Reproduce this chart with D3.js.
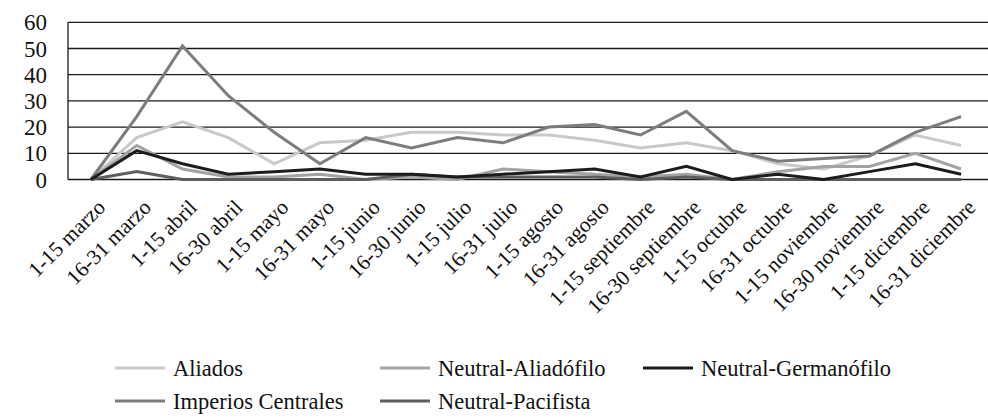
<!DOCTYPE html>
<html>
<head>
<meta charset="utf-8">
<script src="https://cdn.jsdelivr.net/npm/d3@7/dist/d3.min.js"></script>
<style>
  html, body { margin: 0; padding: 0; background: #fff; }
  svg { display: block; }
  svg text { font-family: "Liberation Serif", "Tinos", "Times New Roman"; }
</style>
</head>
<body>
<svg id="chart" width="988" height="419"></svg>
<script>
// Fortnightly periods (1914)
const categories = [
  "1-15 marzo", "16-31 marzo", "1-15 abril", "16-30 abril", "1-15 mayo",
  "16-31 mayo", "1-15 junio", "16-30 junio", "1-15 julio", "16-31 julio",
  "1-15 agosto", "16-31 agosto", "1-15 septiembre", "16-30 septiembre",
  "1-15 octubre", "16-31 octubre", "1-15 noviembre", "16-30 noviembre",
  "1-15 diciembre", "16-31 diciembre"
];

const aliados            = [0, 16, 22, 16, 6, 14, 15, 18, 18, 17, 17, 15, 12, 14, 11, 6, 4, 9, 17, 13];
const neutralAliadofilo  = [0, 13, 4, 1, 1, 2, 0, 1, 0, 4, 3, 2, 1, 2, 0, 3, 5, 5, 10, 4];
const neutralGermanofilo = [0, 11, 6, 2, 3, 4, 2, 2, 1, 2, 3, 4, 1, 5, 0, 2, 0, 3, 6, 2];
const imperiosCentrales  = [0, 24, 51, 32, 18, 6, 16, 12, 16, 14, 20, 21, 17, 26, 11, 7, 8, 9, 18, 24];
const neutralPacifista   = [0, 3, 0, 0, 0, 0, 0, 2, 1, 1, 1, 1, 0, 1, 0, 0, 0, 0, 0, 0];

const yTicks = [0, 10, 20, 30, 40, 50, 60];

const seriesNames  = ["Aliados", "Neutral-Aliadófilo", "Neutral-Germanófilo", "Imperios Centrales", "Neutral-Pacifista"];
const seriesValues = [aliados, neutralAliadofilo, neutralGermanofilo, imperiosCentrales, neutralPacifista];
const seriesColors = ["#c9c9c9", "#a3a3a3", "#1c1c1c", "#7d7d7d", "#5e5e5e"];

const svg = d3.select("#chart");

const plot = { left: 68, right: 988, top: 22.3, bottom: 179.5 };

const x = d3.scalePoint()
  .domain(categories)
  .range([plot.left, plot.right - 4])
  .padding(0.5);

const y = d3.scaleLinear()
  .domain([0, 60])
  .range([plot.bottom, plot.top]);

// Horizontal gridlines
svg.append("g")
  .selectAll("line")
  .data(yTicks)
  .join("line")
  .attr("x1", plot.left)
  .attr("x2", plot.right)
  .attr("y1", d => y(d))
  .attr("y2", d => y(d))
  .attr("stroke", "#1a1a1a")
  .attr("stroke-width", 1.3);

// Left edge of the plot area
svg.append("line")
  .attr("x1", plot.left).attr("x2", plot.left)
  .attr("y1", y(60)).attr("y2", y(0))
  .attr("stroke", "#1a1a1a")
  .attr("stroke-width", 1.3);

// Y tick labels
svg.append("g")
  .selectAll("text")
  .data(yTicks)
  .join("text")
  .attr("x", 47)
  .attr("y", d => y(d))
  .attr("dy", "0.35em")
  .attr("text-anchor", "end")
  .attr("font-size", 23)
  .attr("fill", "#111")
  .text(d => d);

// Series lines, drawn so the dark lines sit on top of the light ones
const line = d3.line()
  .x((d, i) => x(categories[i]))
  .y(d => y(d));

const drawOrder = [0, 1, 3, 4, 2];
svg.append("g")
  .selectAll("path")
  .data(drawOrder)
  .join("path")
  .attr("d", k => line(seriesValues[k]))
  .attr("fill", "none")
  .attr("stroke", k => seriesColors[k])
  .attr("stroke-width", 3)
  .attr("stroke-linejoin", "miter");

// Rotated category labels
svg.append("g")
  .selectAll("text")
  .data(categories)
  .join("text")
  .attr("transform", d => `translate(${x(d) + 5},${198}) rotate(-45)`)
  .attr("text-anchor", "end")
  .attr("font-size", 21.5)
  .attr("dy", "0.7em")
  .attr("fill", "#111")
  .text(d => d);

// Legend
const legendItems = [
  { k: 0, lx: 115, ty: 368 },
  { k: 1, lx: 380, ty: 368 },
  { k: 2, lx: 643, ty: 368 },
  { k: 3, lx: 115, ty: 401 },
  { k: 4, lx: 380, ty: 401 }
];
const legend = svg.append("g");
legendItems.forEach(it => {
  legend.append("line")
    .attr("x1", it.lx).attr("x2", it.lx + 50)
    .attr("y1", it.ty).attr("y2", it.ty)
    .attr("stroke", seriesColors[it.k])
    .attr("stroke-width", 3);
  legend.append("text")
    .attr("x", it.lx + 58)
    .attr("y", it.ty)
    .attr("dy", "0.35em")
    .attr("font-size", 22.5)
    .attr("fill", "#111")
    .text(seriesNames[it.k]);
});
</script>
</body>
</html>
